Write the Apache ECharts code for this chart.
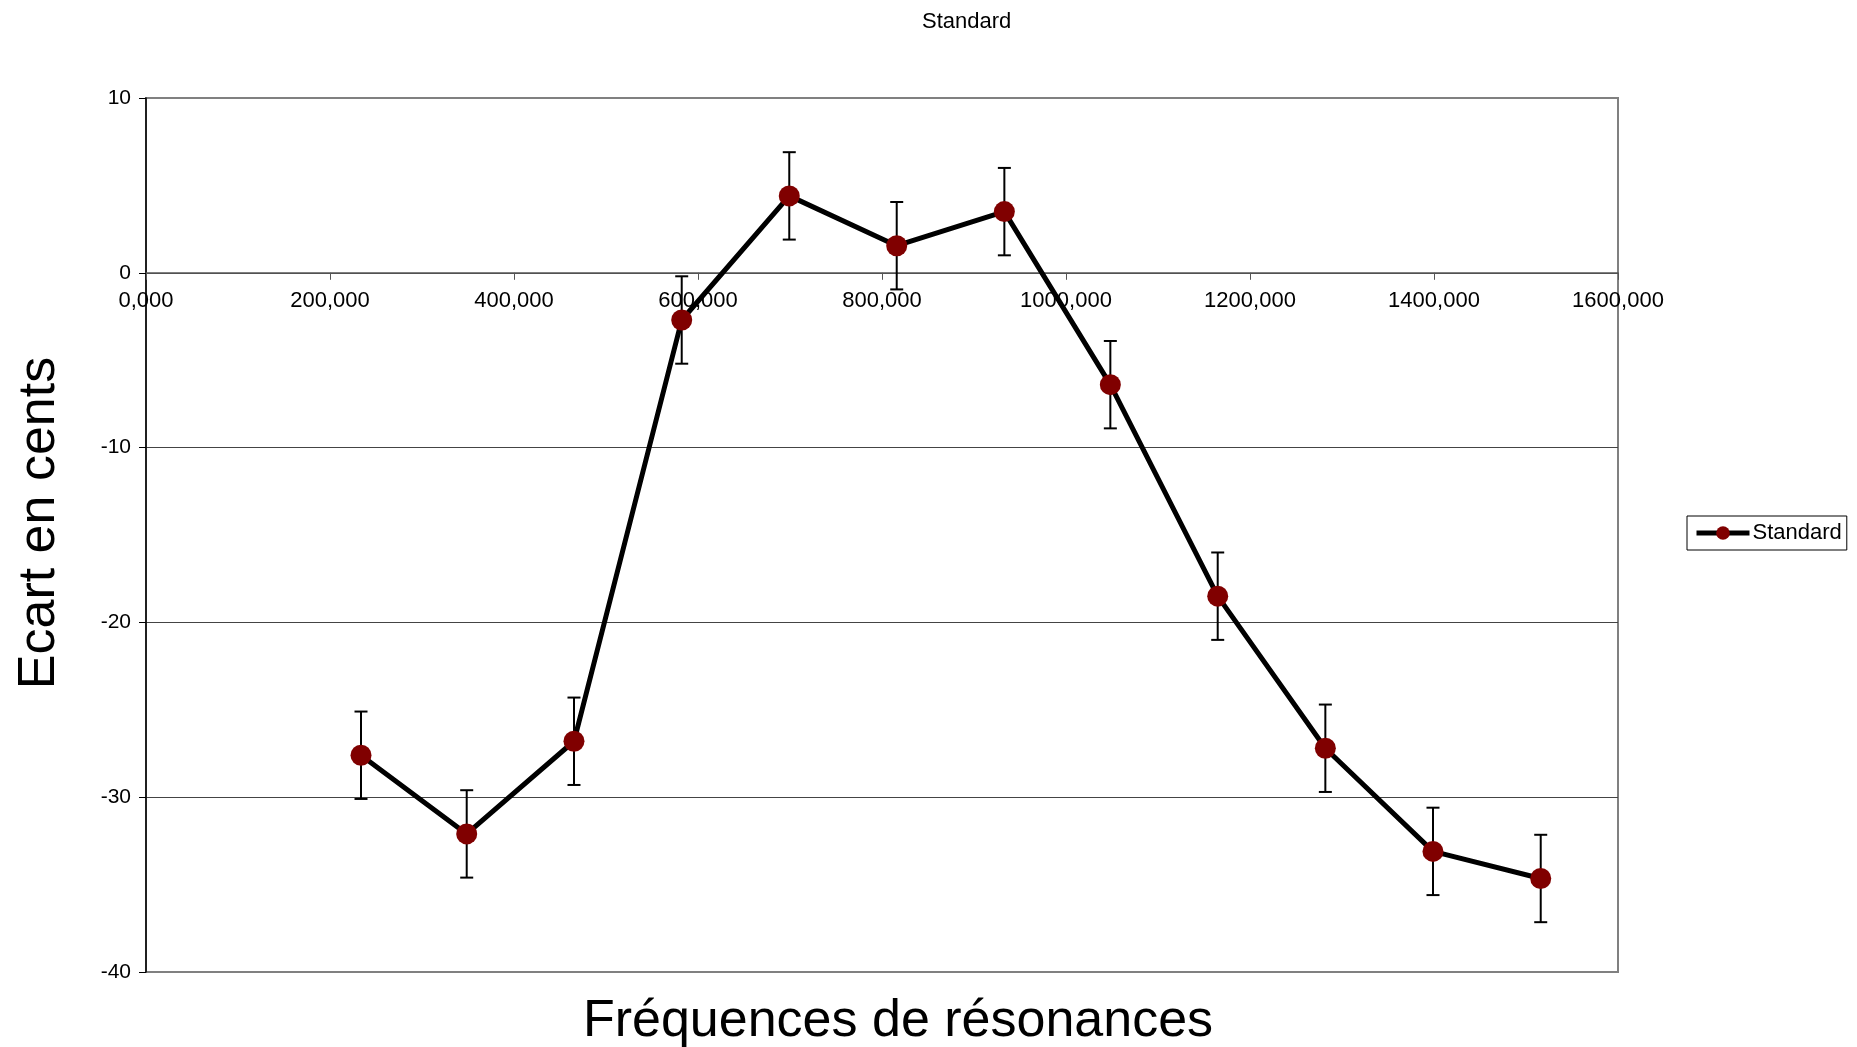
<!DOCTYPE html>
<html><head><meta charset="utf-8">
<script src="https://cdn.jsdelivr.net/npm/echarts@6/dist/echarts.min.js"></script>
<style>html,body{margin:0;padding:0;background:#fff}#c{width:1857px;height:1047px}</style>
</head><body><div id="c"></div>
<script>
// Data
const seriesName = 'Standard';
const freqs   = [233.7, 348.6, 465.2, 582.3, 699.2, 816.0, 933.0, 1048.2, 1164.9, 1281.9, 1398.9, 1516.0];
const ecart   = [-27.6, -32.1, -26.8, -2.7, 4.4, 1.55, 3.5, -6.4, -18.5, -27.2, -33.1, -34.65];
const errPlus = [2.5, 2.5, 2.5, 2.5, 2.5, 2.5, 2.5, 2.5, 2.5, 2.5, 2.5, 2.5];
const errMinus= [2.5, 2.5, 2.5, 2.5, 2.5, 2.5, 2.5, 2.5, 2.5, 2.5, 2.5, 2.5];
const xTickLabels = ['0,000','200,000','400,000','600,000','800,000','1000,000','1200,000','1400,000','1600,000'];
const yTickValues = [-40, -30, -20, -10, 0, 10];

const FONT = '"Liberation Sans", Arial, sans-serif';
const lineData = freqs.map((f, i) => [f, ecart[i]]);
const errData = freqs.map((f, i) => [f, ecart[i] - errMinus[i], ecart[i] + errPlus[i]]);

const GRID = { left: 146, right: 239, top: 98, bottom: 75 };
const H = 1047;
const plotH = H - GRID.top - GRID.bottom;
const yMin = yTickValues[0], yMax = yTickValues[yTickValues.length - 1];
// move the x axis (line, ticks, labels, name) up to the y = 0 line
const xAxisOffset = -plotH * (0 - yMin) / (yMax - yMin);

function renderErr(params, api) {
  const x = api.value(0), lo = api.value(1), hi = api.value(2);
  const pLo = api.coord([x, lo]), pHi = api.coord([x, hi]);
  const hw = 6.5;
  const style = { stroke: '#000', lineWidth: 2, fill: null };
  return { type: 'group', children: [
    { type: 'line', shape: { x1: pLo[0], y1: pLo[1], x2: pHi[0], y2: pHi[1] }, style },
    { type: 'line', shape: { x1: pLo[0] - hw, y1: pLo[1], x2: pLo[0] + hw, y2: pLo[1] }, style },
    { type: 'line', shape: { x1: pHi[0] - hw, y1: pHi[1], x2: pHi[0] + hw, y2: pHi[1] }, style }
  ]};
}

const chart = echarts.init(document.getElementById('c'), null, { renderer: 'canvas' });
chart.setOption({
  animation: false,
  backgroundColor: '#fff',
  textStyle: { fontFamily: FONT, color: '#000' },
  title: {
    text: seriesName, left: 917, top: 6,
    textStyle: { fontFamily: FONT, fontSize: 22, fontWeight: 'normal', color: '#000' }
  },
  legend: {
    data: [seriesName], left: 1687, top: 516, orient: 'vertical',
    borderColor: '#000', borderWidth: 1, padding: [6, 5, 6, 7],
    itemWidth: 53, itemHeight: 17, itemGap: 0,
    lineStyle: { width: 5, color: '#000' },
    itemStyle: { color: '#800000' },
    textStyle: { fontFamily: FONT, fontSize: 22, color: '#000', padding: [0, 0, 0, -2] }
  },
  grid: { left: GRID.left, right: GRID.right, top: GRID.top, bottom: GRID.bottom, show: true, borderColor: '#808080', borderWidth: 2,
    backgroundColor: 'transparent', containLabel: false, outerBoundsMode: 'none' },
  xAxis: {
    type: 'value', min: 0, max: 1600, interval: 200, position: 'bottom', offset: xAxisOffset,
    name: 'Fréquences de résonances', nameLocation: 'middle', nameGap: 723,
    nameTextStyle: { fontFamily: FONT, fontSize: 52, color: '#000', padding: [0, 0, 0, 32] },
    axisLine: { onZero: false, lineStyle: { color: '#555', width: 1.5 } },
    axisTick: { show: true, inside: false, length: 7, lineStyle: { color: '#555' } },
    axisLabel: { fontFamily: FONT, fontSize: 22, color: '#000', margin: 17,
      formatter: v => xTickLabels[Math.round(v / 200)] },
    splitLine: { show: false }
  },
  yAxis: {
    type: 'value', min: yMin, max: yMax, interval: 10,
    name: 'Ecart en cents', nameLocation: 'middle', nameGap: 80,
    nameTextStyle: { fontFamily: FONT, fontSize: 52, color: '#000', padding: [0, 0, 0, 24] },
    axisLine: { show: true, onZero: false, lineStyle: { color: '#000', width: 1.5 } },
    axisTick: { show: true, inside: false, length: 7, lineStyle: { color: '#000' } },
    axisLabel: { fontFamily: FONT, fontSize: 21, color: '#000', margin: 15 },
    splitLine: { show: true, showMinLine: false, showMaxLine: false, lineStyle: { color: '#444', width: 1 } }
  },
  series: [
    {
      name: 'err', type: 'custom', renderItem: renderErr, data: errData,
      encode: { x: 0, y: [1, 2] }, z: 1, silent: true
    },
    {
      name: seriesName, type: 'line', data: lineData, z: 3,
      symbol: 'circle', symbolSize: 21,
      lineStyle: { color: '#000', width: 5 },
      itemStyle: { color: '#800000' }
    }
  ]
});
</script>
</body></html>
